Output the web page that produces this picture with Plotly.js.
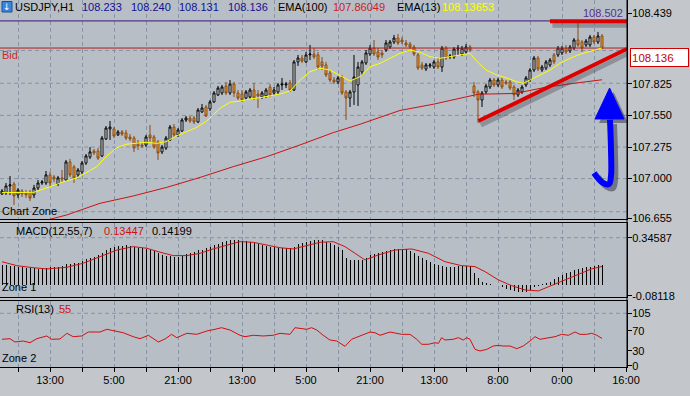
<!DOCTYPE html>
<html><head><meta charset="utf-8">
<script src="https://cdn.plot.ly/plotly-3.0.1.min.js"></script>
<style>html,body{margin:0;padding:0;background:#c3c7cc;} #chart{width:690px;height:396px;}</style>
</head><body><div id="chart"></div>
<script>
// ---------------- DATA ----------------
const open = [106.866,106.875,106.936,106.953,106.858,106.892,106.875,106.884,106.858,106.918,
106.962,106.962,107.032,107.014,106.953,107.006,106.988,107.145,107.101,107.032,
107.058,107.136,107.188,107.240,107.240,107.197,107.345,107.432,107.432,107.380,
107.406,107.397,107.362,107.353,107.310,107.292,107.292,107.380,107.362,107.319,
107.232,107.266,107.336,107.449,107.380,107.414,107.510,107.527,107.527,107.493,
107.580,107.623,107.606,107.667,107.728,107.745,107.806,107.745,107.823,107.745,
107.736,107.701,107.710,107.771,107.736,107.710,107.719,107.797,107.745,107.754,
107.815,107.815,107.832,107.771,108.015,108.049,108.015,108.076,108.084,108.076,
108.015,107.989,107.919,107.858,107.841,107.884,107.754,107.701,107.754,107.815,
107.928,108.006,108.084,108.136,108.102,108.093,108.119,108.145,108.189,108.223,
108.206,108.180,108.171,108.145,108.076,107.989,107.954,107.980,107.971,108.015,
107.971,108.136,108.058,108.058,108.128,108.084,108.102,108.145,107.806,107.754,
107.684,107.754,107.797,107.858,107.815,107.858,107.841,107.841,107.797,107.728,
107.754,107.815,107.858,107.945,108.049,107.945,107.962,107.989,108.076,108.076,
108.093,108.136,108.110,108.136,108.206,108.189,108.163,108.163,108.232,108.189,
108.241];
const high = [106.910,106.962,107.023,106.971,106.918,106.910,106.901,106.901,106.945,106.988,
106.988,107.066,107.058,107.032,107.023,107.075,107.162,107.171,107.119,107.092,
107.153,107.214,107.275,107.258,107.266,107.371,107.458,107.501,107.449,107.423,
107.423,107.423,107.388,107.371,107.336,107.310,107.380,107.467,107.380,107.336,
107.292,107.371,107.467,107.475,107.440,107.527,107.545,107.545,107.545,107.614,
107.649,107.641,107.684,107.762,107.806,107.815,107.841,107.858,107.841,107.771,
107.771,107.771,107.788,107.832,107.771,107.762,107.788,107.823,107.797,107.832,
107.876,107.841,107.858,108.032,108.076,108.076,108.102,108.163,108.136,108.102,
108.058,108.015,107.945,107.884,107.893,107.902,107.771,107.771,108.076,108.015,
108.032,108.119,108.163,108.206,108.136,108.119,108.206,108.206,108.250,108.258,
108.232,108.206,108.189,108.163,108.093,108.015,108.006,108.006,108.032,108.049,
108.154,108.154,108.084,108.145,108.163,108.154,108.171,108.163,107.841,107.771,
107.762,107.823,107.876,107.876,107.876,107.876,107.858,107.858,107.815,107.788,
107.815,107.893,107.962,108.067,108.067,107.989,108.032,108.049,108.093,108.154,
108.154,108.163,108.163,108.223,108.371,108.206,108.215,108.250,108.250,108.276,
108.258];
const low = [106.858,106.858,106.858,106.771,106.831,106.840,106.831,106.805,106.831,106.901,
106.945,106.945,106.927,106.971,106.936,106.971,106.979,107.014,106.962,107.014,
107.040,107.119,107.171,107.206,107.162,107.188,107.336,107.336,107.353,107.371,
107.371,107.336,107.327,107.232,107.249,107.266,107.275,107.319,107.258,107.162,
107.214,107.249,107.327,107.362,107.362,107.406,107.493,107.484,107.475,107.484,
107.571,107.536,107.588,107.658,107.719,107.728,107.728,107.728,107.710,107.684,
107.667,107.684,107.693,107.684,107.614,107.693,107.701,107.710,107.728,107.736,
107.771,107.788,107.754,107.762,107.980,108.006,108.006,108.032,108.041,107.945,
107.945,107.884,107.841,107.823,107.823,107.728,107.510,107.623,107.641,107.632,
107.902,107.989,108.067,108.067,108.032,108.049,108.102,108.128,108.171,108.163,
108.171,108.145,108.128,108.067,107.945,107.945,107.936,107.962,107.954,107.954,
107.928,108.032,108.041,108.041,108.076,108.067,108.084,108.102,107.710,107.484,
107.623,107.736,107.780,107.797,107.797,107.780,107.815,107.771,107.684,107.710,
107.736,107.797,107.841,107.928,107.936,107.928,107.945,107.971,107.997,108.058,
108.076,108.084,108.093,108.119,108.145,108.102,108.145,108.145,108.171,108.171,
108.128];
const close = [106.892,106.936,106.945,106.849,106.901,106.866,106.858,106.831,106.918,106.962,
106.971,107.032,106.962,106.997,107.006,106.997,107.145,107.032,107.006,107.075,
107.136,107.197,107.232,107.223,107.179,107.353,107.440,107.449,107.371,107.406,
107.388,107.353,107.345,107.266,107.284,107.284,107.362,107.353,107.275,107.223,
107.275,107.353,107.449,107.380,107.423,107.510,107.527,107.501,107.493,107.597,
107.614,107.545,107.667,107.745,107.788,107.797,107.745,107.823,107.745,107.701,
107.684,107.754,107.771,107.701,107.719,107.745,107.771,107.728,107.771,107.815,
107.823,107.823,107.771,108.015,108.049,108.023,108.076,108.084,108.058,107.971,
107.980,107.902,107.858,107.841,107.876,107.745,107.701,107.754,107.884,107.971,
108.015,108.093,108.136,108.084,108.058,108.076,108.180,108.189,108.223,108.180,
108.189,108.163,108.145,108.084,107.962,107.962,107.989,107.989,108.015,107.971,
108.136,108.049,108.067,108.128,108.136,108.136,108.145,108.119,107.745,107.684,
107.745,107.806,107.858,107.815,107.858,107.797,107.832,107.788,107.728,107.771,
107.797,107.876,107.945,108.049,107.954,107.971,108.015,108.032,108.015,108.136,
108.136,108.102,108.145,108.206,108.163,108.136,108.197,108.232,108.189,108.241,
108.136];

const ema13X = [0,8,12,14.5,16,18.7,21,23.7,26,28.7,31,33.7,36,38.7,41,43.7,46,48.7,51,52,
54.5,57,59.5,62,64.5,67,69.5,72,74.5,77,79.5,82,84.5,87,89.5,92,94.5,97,99.5,102,
104.5,107,109.5,112,114.5,117,118.8,121,123.7,126,128.7,130.3,132,134.5,137,139.5,142,144.5,147,150];
const ema13Y = [106.878,106.881,106.930,106.962,106.979,107.006,107.049,107.104,107.191,107.269,
107.299,107.307,107.316,107.307,107.321,107.373,107.408,107.446,107.497,107.527,
107.612,107.664,107.675,107.693,107.704,107.721,107.736,107.762,107.858,107.930,
107.960,107.945,107.895,107.849,107.887,107.974,108.003,108.047,108.090,108.119,
108.099,108.061,108.047,108.061,108.076,108.090,108.017,107.945,107.901,107.878,
107.843,107.829,107.858,107.901,107.945,108.003,108.047,108.082,108.110,108.137];

const ema100X = [12,16.2,24.5,32.8,41.2,49.5,57.8,66.2,74.5,82.8,89.5,99.5,107.8,116.2,119,128.3,135.8,144,150];
const ema100Y = [106.646,106.684,106.785,106.849,106.924,107.010,107.104,107.191,107.293,107.400,
107.473,107.593,107.647,107.713,107.734,107.741,107.794,107.834,107.860];

const macdHist = [0.145,0.145,0.140,0.138,0.133,0.130,0.125,0.121,0.121,0.118,
0.121,0.125,0.128,0.133,0.133,0.140,0.150,0.155,0.158,0.162,
0.175,0.187,0.199,0.206,0.219,0.236,0.255,0.268,0.278,0.282,
0.287,0.290,0.287,0.280,0.273,0.268,0.263,0.258,0.248,0.231,
0.219,0.214,0.209,0.206,0.206,0.214,0.224,0.233,0.243,0.253,
0.258,0.268,0.280,0.292,0.302,0.312,0.322,0.327,0.329,0.327,
0.324,0.319,0.314,0.305,0.297,0.292,0.285,0.280,0.275,0.270,
0.268,0.268,0.273,0.280,0.297,0.307,0.317,0.324,0.329,0.329,
0.327,0.317,0.305,0.292,0.280,0.255,0.200,0.182,0.180,0.182,
0.182,0.199,0.216,0.228,0.236,0.241,0.248,0.256,0.263,0.265,
0.265,0.261,0.251,0.236,0.211,0.199,0.182,0.167,0.155,0.143,
0.138,0.133,0.133,0.133,0.135,0.138,0.138,0.138,0.084,0.052,
0.022,0.010,0.005,0.001,-0.002,-0.019,-0.032,-0.039,-0.046,-0.052,
-0.056,-0.052,-0.039,-0.019,-0.007,0.003,0.012,0.022,0.042,0.059,
0.071,0.084,0.096,0.106,0.116,0.125,0.128,0.133,0.138,0.145,
0.142];
const signalX = [0,3.7,7.8,11.2,16.2,20.3,24.5,28.7,32.8,36.2,39.5,42.8,46.2,49.5,52.8,56.2,59.5,62.8,66.2,69.5,
72.8,76.2,79.5,82.8,85.75,90.75,94.1,98.25,102.4,106.6,110.75,114.9,118.25,120.75,124.1,127.4,130.75,134.1,137.4,140.75,
144.1,147.4,150];
const signalY = [0.169,0.140,0.125,0.116,0.128,0.158,0.206,0.255,0.280,0.268,0.239,0.214,0.214,0.231,0.263,0.292,0.317,0.312,0.292,0.272,
0.263,0.287,0.312,0.317,0.280,0.182,0.219,0.255,0.263,0.231,0.169,0.140,0.133,0.096,0.035,-0.007,-0.039,-0.046,-0.007,0.035,
0.077,0.116,0.134];

const rsiX = [0,2,3.25,5.3,7,8.7,11.2,12.4,14.5,16.2,17.8,19.9,21.6,24.5,26.2,28.25,30.3,32.8,34.5,36.6,
39.1,40.75,42.4,43.7,46.2,48.7,51.2,53.25,54.9,57,59.5,60.75,62.8,65.3,67.8,69.5,72,73.25,74.9,76.2,
77.4,78.7,80.3,82,83.7,85.75,87.4,89.9,92,93.25,94.5,97,98.25,99.9,102,103.7,104.9,106.6,108.25,109.1,
109.9,110.75,112.8,114.1,115.3,116.2,117,118.25,119.5,121.2,122.8,124.1,125.3,127,128.7,130.3,132,133.25,134.5,136.6,
138.25,139.9,141.6,143.25,144.5,146.2,147.4,148.7,150];
const rsiY = [53.2,54.4,47.8,49.8,46.4,54.4,59.8,53.2,53.8,65.1,58.4,59.8,67.7,67.7,73.1,69.7,66.3,58.4,54.4,61.2,
47.8,53.8,63.1,56.4,65.1,63.1,69.7,73.1,76.3,71.7,61.2,58.4,61.2,59.8,61.2,65.1,63.1,76.3,74.3,73.1,
76.3,71.7,61.2,51.8,49.8,39.2,53.2,61.2,67.7,66.3,61.2,67.7,66.3,63.1,63.1,53.2,43.2,43.2,46.4,45.1,
56.4,51.8,53.2,56.4,51.8,56.4,53.2,33.2,29.9,33.2,39.8,41.1,39.8,39.8,34.5,39.8,49.8,58.4,53.2,56.4,
58.4,63.1,61.2,67.7,63.1,63.1,65.1,61.2,55];

// drawn objects (in bar index / price units)
const trendX = [119.1, 156.2];
const trendY = [107.501, 108.128];
const topLineX = [137, 156.2];
const topLineY = [108.369, 108.369];
const highLevel = 108.372;
const bidLevel = 108.136;
const arrowStemX = [148.0, 150.25, 151.75, 152.25, 152.25, 152.0];
const arrowStemY = [107.049, 106.962, 106.953, 107.023, 107.249, 107.510];
const arrowHeadX = [148.25, 151.9, 155.5, 148.25];
const arrowHeadY = [107.519, 107.788, 107.519, 107.519];

// axis labels
const priceTicks = [108.439, 107.825, 107.550, 107.275, 107.000, 106.655];
const priceGrid = [108.115, 107.830, 107.550, 107.275, 107.000, 106.712];
const macdTicks = [0.34587, -0.08118];
const rsiTicks = [105, 70, 30, 0];
const rsiGrid = [105];
const timeTickBars = [12, 28, 44, 60, 76, 92, 108, 124, 140, 156];
const timeTickLabels = ['13:00','5:00','21:00','13:00','5:00','21:00','13:00','8:00','0:00','16:00'];
const quote = ['108.233','108.240','108.131','108.136'];
const ema100Label = '107.86049', ema13Label = '108.13653';
const macdLabels = ['0.13447', '0.14199'];
const rsiLabel = '55';

// ---------------- CHART ----------------
const W = 627, H = 367;
const px = x => x / W, py = y => (H - y) / H;
const FONT = 'Liberation Sans, Arial, sans-serif';
const AXFONT = {family:FONT, size:11, color:'#000'};
const GRID = '#8793a2';
const idx = close.map((_, i) => i);

const traces = [
  {type:'scatter', mode:'lines', x:[-0.5,157], y:[highLevel,highLevel], line:{color:'#3c1478', width:1}, xaxis:'x', yaxis:'y', hoverinfo:'skip'},
  {type:'scatter', mode:'lines', x:[-0.5,157], y:[bidLevel,bidLevel], line:{color:'#b81c1c', width:1}, xaxis:'x', yaxis:'y', hoverinfo:'skip'},
  {type:'scatter', mode:'lines', x:ema100X, y:ema100Y, line:{color:'#c81414', width:1}, xaxis:'x', yaxis:'y'},
  {type:'candlestick', x:idx, open:open, high:high, low:low, close:close, xaxis:'x', yaxis:'y',
   increasing:{line:{color:'#000000', width:1}, fillcolor:'#ffffff'},
   decreasing:{line:{color:'#8b4a14', width:1}, fillcolor:'#f0a52a'}, whiskerwidth:0},
  {type:'scatter', mode:'lines', x:ema13X, y:ema13Y, line:{color:'#ffff00', width:1}, xaxis:'x', yaxis:'y'},
  // shadows
  {type:'scatter', mode:'lines', x:trendX.map(v=>v+0.6), y:trendY.map(v=>v-0.035), line:{color:'rgba(60,64,72,0.35)', width:5}, xaxis:'x', yaxis:'y'},
  {type:'scatter', mode:'lines', x:topLineX.map(v=>v+0.6), y:topLineY.map(v=>v-0.035), line:{color:'rgba(60,64,72,0.35)', width:5}, xaxis:'x', yaxis:'y'},
  {type:'scatter', mode:'lines', x:arrowStemX.map(v=>v+1), y:arrowStemY.map(v=>v-0.035), line:{color:'rgba(30,30,50,0.45)', width:6, shape:'spline'}, xaxis:'x', yaxis:'y'},
  {type:'scatter', mode:'lines', x:arrowHeadX.map(v=>v+1), y:arrowHeadY.map(v=>v-0.035), fill:'toself', fillcolor:'rgba(30,30,50,0.45)', line:{width:0, color:'rgba(0,0,0,0)'}, xaxis:'x', yaxis:'y'},
  // drawn objects
  {type:'scatter', mode:'lines', x:trendX, y:trendY, line:{color:'#dd0000', width:4}, xaxis:'x', yaxis:'y'},
  {type:'scatter', mode:'lines', x:topLineX, y:topLineY, line:{color:'#dd0000', width:4}, xaxis:'x', yaxis:'y'},
  {type:'scatter', mode:'lines', x:arrowStemX, y:arrowStemY, line:{color:'#0000ff', width:6, shape:'spline'}, xaxis:'x', yaxis:'y'},
  {type:'scatter', mode:'lines', x:arrowHeadX, y:arrowHeadY, fill:'toself', fillcolor:'#0000ff', line:{width:1, color:'#0000ff'}, xaxis:'x', yaxis:'y'},
  // MACD
  {type:'bar', x:idx, y:macdHist, width:0.25, marker:{color:'#000000', line:{width:0}}, xaxis:'x2', yaxis:'y2'},
  {type:'scatter', mode:'lines', x:signalX, y:signalY, line:{color:'#d01010', width:1}, xaxis:'x2', yaxis:'y2'},
  // RSI
  {type:'scatter', mode:'lines', x:rsiX, y:rsiY, line:{color:'#d01010', width:1}, xaxis:'x3', yaxis:'y3'}
];

const gridVals = [];
for (let v = 4; v <= 156; v += 8) gridVals.push(v);
const tickTextAll = gridVals.map(v => { const k = timeTickBars.indexOf(v); return k >= 0 ? timeTickLabels[k] : ''; });

const xBase = {type:'linear', range:[-0.5, 156.25], showline:true, mirror:true, linecolor:'#000', linewidth:1,
  showgrid:true, gridcolor:GRID, griddash:'4px,3px', gridwidth:1, tickmode:'array', tickvals:gridVals, zeroline:false, fixedrange:true};
const yBase = {type:'linear', side:'right', showline:true, mirror:true, linecolor:'#000', linewidth:1, showgrid:false, zeroline:false,
  ticks:'outside', ticklen:4, tickcolor:'#000', tickfont:AXFONT, ticklabelstandoff:-2, tickmode:'array', fixedrange:true};

const shapes = [];
priceGrid.forEach(v => shapes.push({type:'line', xref:'x domain', yref:'y', x0:0, x1:1, y0:v, y1:v, line:{color:GRID, width:1, dash:'4px,3px'}, layer:'below'}));
shapes.push({type:'line', xref:'x2 domain', yref:'y2', x0:0, x1:1, y0:macdTicks[0], y1:macdTicks[0], line:{color:GRID, width:1, dash:'4px,3px'}, layer:'below'});
rsiGrid.forEach(v => shapes.push({type:'line', xref:'x3 domain', yref:'y3', x0:0, x1:1, y0:v, y1:v, line:{color:GRID, width:1, dash:'4px,3px'}, layer:'below'}));
shapes.push({type:'line', xref:'paper', yref:'paper', x0:1, x1:1, y0:0, y1:1, line:{color:'#000', width:1}});
shapes.push({type:'rect', xref:'paper', yref:'paper', x0:px(2), x1:px(12), y0:py(12), y1:py(1.5), fillcolor:'#3b86dc', line:{color:'#1d4f8f', width:1}});

function txt(text, x, y, color, opts) {
  opts = opts || {};
  return Object.assign({xref:'paper', yref:'paper', x:px(x), y:py(y), xanchor:'left', yanchor:'middle', text:text, showarrow:false,
    font:{family:FONT, size:11, color:color}, borderpad:0}, opts);
}
const annotations = [
  txt('↓', 7, 7, '#ffffff', {xanchor:'center', font:{family:'DejaVu Sans', size:9, color:'#ffffff'}}),
  txt('USDJPY,H1', 14, 7, '#000000'),
  txt(quote[0], 81, 7, '#101090'),
  txt(quote[1], 130, 7, '#101090'),
  txt(quote[2], 178, 7, '#101090'),
  txt(quote[3], 227, 7, '#101090'),
  txt('EMA(100)', 277, 7, '#000000'),
  txt(ema100Label, 332, 7, '#c81e1e'),
  txt('EMA(13)', 396, 7, '#000000'),
  txt(ema13Label, 441, 7, '#ffff00'),
  txt('108.502', 624, 13, '#5b2d90', {xanchor:'right'}),
  txt('Bid', 1, 55, '#cc2a2a'),
  txt('Chart Zone', 1, 210.5, '#000000'),
  txt('MACD(12,55,7)', 15, 231, '#000000'),
  txt(macdLabels[0], 103, 231, '#d01010'),
  txt(macdLabels[1], 151, 231, '#000000'),
  txt('Zone 1', 1, 287, '#000000'),
  txt('RSI(13)', 15, 308.5, '#000000'),
  txt(rsiLabel, 58, 308.5, '#d01010'),
  txt('Zone 2', 1, 358, '#000000'),
  {xref:'paper', yref:'y', x:px(630), y:bidLevel, xanchor:'left', yanchor:'top', text:'108.136', showarrow:false,
   font:{family:FONT, size:11.5, color:'#cc0000'}, bgcolor:'#ffffff', bordercolor:'#cc0000', borderwidth:1, borderpad:1, width:55, height:15, align:'left'}
];

const layout = {
  width:690, height:396,
  margin:{l:0, r:63, t:0, b:29, pad:0},
  paper_bgcolor:'#c3c7cc', plot_bgcolor:'#b7bec6',
  showlegend:false,
  xaxis: Object.assign({}, xBase, {anchor:'y', showticklabels:false, ticks:'', rangeslider:{visible:false}}),
  xaxis2: Object.assign({}, xBase, {anchor:'y2', matches:'x', showticklabels:false, ticks:''}),
  xaxis3: Object.assign({}, xBase, {anchor:'y3', matches:'x', showticklabels:true, ticktext:tickTextAll, ticks:'outside', ticklen:4, tickcolor:'#000',
    tickfont:AXFONT, ticklabelstandoff:-1}),
  yaxis: Object.assign({}, yBase, {domain:[0.40245, 1], range:[106.646, 108.554], anchor:'x', tickvals:priceTicks, ticktext:priceTicks.map(v=>v.toFixed(3))}),
  yaxis2: Object.assign({}, yBase, {domain:[0.18992, 0.39101], range:[-0.0930, 0.4504], anchor:'x2', tickvals:macdTicks, ticktext:macdTicks.map(v=>v.toFixed(5))}),
  yaxis3: Object.assign({}, yBase, {domain:[0, 0.18065], range:[-2, 130.1], anchor:'x3', tickvals:rsiTicks, ticktext:rsiTicks.map(String)}),
  bargap:0,
  shapes:shapes,
  annotations:annotations
};

Plotly.newPlot('chart', traces, layout, {staticPlot:true, displayModeBar:false});
</script></body></html>
